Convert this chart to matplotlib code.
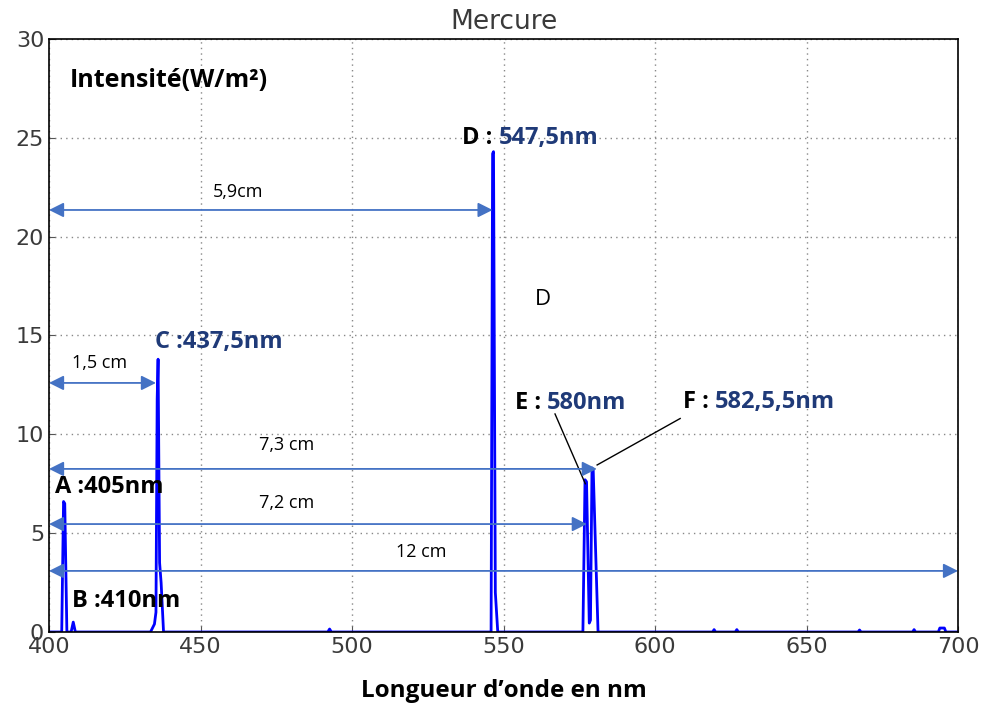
import matplotlib.pyplot as plt

# spectre du mercure
longueur_onde = [400, 404.2, 404.8, 405.2, 405.9, 407.3, 408.0, 408.7, 433.5, 434.8, 435.3,
                 435.7, 436.0, 436.5, 437.0, 437.8, 492.0, 492.6, 493.2, 545.9, 546.4,
                 546.7, 547.3, 548.1, 576.2, 576.9, 577.4, 578.3, 578.7, 579.2, 579.6,
                 581.2, 619.0, 619.5, 620.0, 626.5, 627.0, 627.5, 667.0, 667.5, 668.0,
                 685.0, 685.5, 686.0, 693.5, 694.0, 695.5, 696.0, 700]
intensite = [0, 0, 6.6, 6.5, 0, 0, 0.5, 0, 0, 0.4, 1.0,
             11.8, 13.8, 3.5, 2.5, 0, 0, 0.15, 0, 0, 24.2,
             24.3, 2.0, 0, 0, 7.7, 7.6, 0.45, 0.6, 8.3, 8.2,
             0, 0, 0.12, 0, 0, 0.12, 0, 0, 0.1, 0,
             0, 0.12, 0, 0, 0.2, 0.2, 0, 0]

# flèches de mesure : (x début, x fin, y, texte, x texte, y texte)
fleches_x0 = [400, 400, 400, 400, 400]
fleches_x1 = [546.4, 435.3, 580.8, 577.5, 700]
fleches_y = [21.35, 12.6, 8.25, 5.46, 3.09]
fleches_txt = ['5,9cm', '1,5 cm', '7,3 cm', '7,2 cm', '12 cm']
fleches_tx = [462.4, 416.8, 478.5, 478.5, 522.8]
fleches_ty = [22.26, 13.6, 9.46, 6.52, 4.05]

bleu_fonce = '#1f3a78'
bleu_fleche = '#4472c4'
gris = '#3a3a3a'

fig = plt.figure(figsize=(9.84, 7.04), dpi=100)
ax = fig.add_axes([0.0498, 0.1023, 0.9238, 0.8423])

ax.plot(longueur_onde, intensite, color='#0000ff', lw=2)
ax.set_xlim(400, 700)
ax.set_ylim(0, 30)
ax.set_xticks([400, 450, 500, 550, 600, 650, 700])
ax.set_yticks([0, 5, 10, 15, 20, 25, 30])
ax.tick_params(direction='in', length=4, labelsize=16, labelcolor=gris, color='#555555')
ax.grid(True, linestyle=(0, (1, 3)), color='#888888', lw=1)
for s in ax.spines.values():
    s.set_color('black')
    s.set_linewidth(1.2)
ax.set_title('Mercure', fontsize=19, color=gris, pad=7)

ax.set_xlabel('Longueur d\u2019onde en nm', family='Open Sans', fontweight='bold',
              fontsize=17.5, labelpad=16)

for x0, x1, y, txt, tx, ty in zip(fleches_x0, fleches_x1, fleches_y, fleches_txt, fleches_tx, fleches_ty):
    ax.annotate('', xy=(x1, y), xytext=(x0, y), annotation_clip=False,
                arrowprops=dict(arrowstyle='<|-|>', color=bleu_fleche, lw=1.3,
                                mutation_scale=22, shrinkA=0, shrinkB=0))
    ax.text(tx, ty, txt, ha='center', va='center', fontsize=13, family='Open Sans')

# traits de rappel E et F
ax.plot([567.0, 577.0], [11.03, 7.5], color='black', lw=1)
ax.plot([608.3, 580.9], [10.8, 8.45], color='black', lw=1)

gras = dict(family='Open Sans', fontweight='bold', fontsize=17, va='center', ha='left')
ax.text(406.9, 27.9, 'Intensit\u00e9(W/m\u00b2)', color='black',
        **{**gras, 'fontsize': 18})
ax.text(402.0, 7.33, 'A :405nm', color='black', **gras)
ax.text(407.6, 1.55, 'B :410nm', color='black', **gras)
ax.text(435.0, 14.67, 'C :437,5nm', color=bleu_fonce, **gras)
for x, y, lettre, valeur in [(536.3, 25.0, 'D : ', '547,5nm'),
                             (553.8, 11.58, 'E : ', '580nm'),
                             (609.2, 11.63, 'F : ', '582,5,5nm')]:
    t1 = ax.text(x, y, lettre, color='black', **gras)
    ax.annotate(valeur, xy=(1, 0.5), xycoords=t1, va='center', ha='left',
                family='Open Sans', fontweight='bold', fontsize=17, color=bleu_fonce)
ax.text(560.4, 16.8, 'D', fontsize=16, family='Open Sans', va='center', ha='left')

fig.savefig('out.png', dpi=100)
